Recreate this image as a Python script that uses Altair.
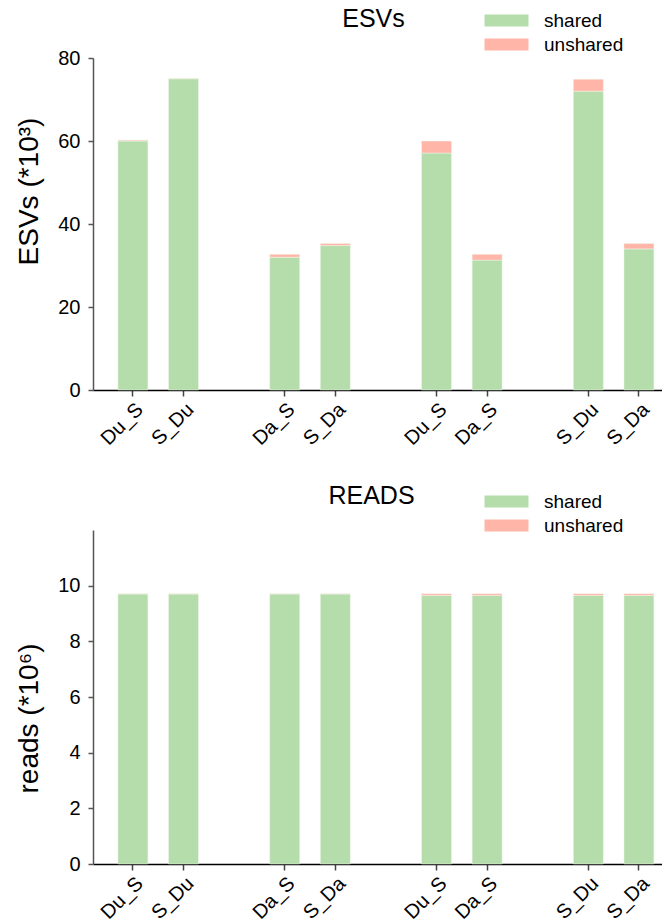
import altair as alt
import pandas as pd

# categories: unique slot ids (group prefix + label); gaps are empty slots
slots = ["1_Du_S", "1_S_Du", "gap1", "2_Da_S", "2_S_Da", "gap2",
         "3_Du_S", "3_Da_S", "gap3", "4_S_Du", "4_S_Da"]
bars = ["1_Du_S", "1_S_Du", "2_Da_S", "2_S_Da",
        "3_Du_S", "3_Da_S", "4_S_Du", "4_S_Da"]

esv_shared = [60.0, 75.0, 32.0, 34.8, 57.1, 31.3, 72.0, 34.0]
esv_unshared = [0.2, 0.1, 0.7, 0.5, 2.9, 1.4, 2.9, 1.3]

reads_shared = [9.70, 9.70, 9.70, 9.70, 9.65, 9.65, 9.65, 9.65]
reads_unshared = [0.01, 0.01, 0.01, 0.01, 0.06, 0.06, 0.06, 0.06]

status = ["shared", "unshared"]
colors = ["#b5dcab", "#ffb5a8"]

FONT = "Liberation Sans"
LEGEND_PATH = "M-1,-1H6.33V1H-1Z"


def table(shared, unshared):
    rows = []
    for b, s, u in zip(bars, shared, unshared):
        rows.append({"slot": b, "status": "shared", "order": 0, "value": s})
        rows.append({"slot": b, "status": "unshared", "order": 1, "value": u})
    return pd.DataFrame(rows)


def panel(df, title, ytitle, ydomain, yvalues, title_y, lx, ly, w, h, tdx, toff):
    return alt.Chart(df).mark_bar(stroke="#eef6ea", strokeWidth=0.5).encode(
        x=alt.X("slot:N",
                scale=alt.Scale(domain=slots, paddingInner=0.408,
                                paddingOuter=0.326, align=0.755),
                axis=alt.Axis(values=bars, labelExpr="substring(datum.value, 2)",
                              labelAngle=-45, labelFontSize=20, labelFont=FONT,
                              labelColor="black", title=None,
                              domainColor="black", domainWidth=1.5,
                              tickColor="#444", tickSize=6, tickWidth=1.5,
                              labelPadding=3)),
        y=alt.Y("value:Q", stack="zero",
                scale=alt.Scale(domain=ydomain, nice=False, zero=True),
                axis=alt.Axis(values=yvalues, title=ytitle, titleFontSize=28,
                              titleFont=FONT, titleFontWeight="normal",
                              titleColor="black", titleX=-50, titleY=title_y,
                              labelFontSize=20, labelFont=FONT, labelColor="black",
                              domainColor="#555", domainWidth=1.5,
                              tickColor="#555", tickWidth=1.5, tickSize=5,
                              labelPadding=8, grid=False)),
        color=alt.Color("status:N",
                        scale=alt.Scale(domain=status, range=colors),
                        legend=alt.Legend(orient="none", legendX=lx, legendY=ly,
                                          title=None, labelFontSize=19,
                                          labelFont=FONT, labelColor="black",
                                          symbolType=LEGEND_PATH, symbolSize=144,
                                          symbolStrokeWidth=0, symbolOpacity=1,
                                          labelOffset=44, rowPadding=4)),
        order=alt.Order("order:Q"),
    ).properties(
        width=w, height=h,
        title=alt.TitleParams(title, fontSize=25, fontWeight="normal", font=FONT,
                              color="black", anchor="middle", frame="group",
                              dx=tdx, offset=toff),
    )


top = panel(table(esv_shared, esv_unshared), "ESVs", "ESVs (*10³)",
            [0, 80], [0, 20, 40, 60, 80], 133, 388, -47, 569, 332, -4, -21)
bottom = panel(table(reads_shared, reads_unshared), "READS", "reads (*10⁶)",
               [0, 12], [0, 2, 4, 6, 8, 10], 188, 388, -38, 569, 334, -6, -17)

chart = alt.vconcat(top, bottom, spacing=35).resolve_scale(
    color="independent").resolve_legend(color="independent").configure_view(
    stroke=None).properties(padding={"left": 6, "top": -1, "right": 0, "bottom": 0})

chart.save("out.html", embed_options={"renderer": "svg", "actions": False})
